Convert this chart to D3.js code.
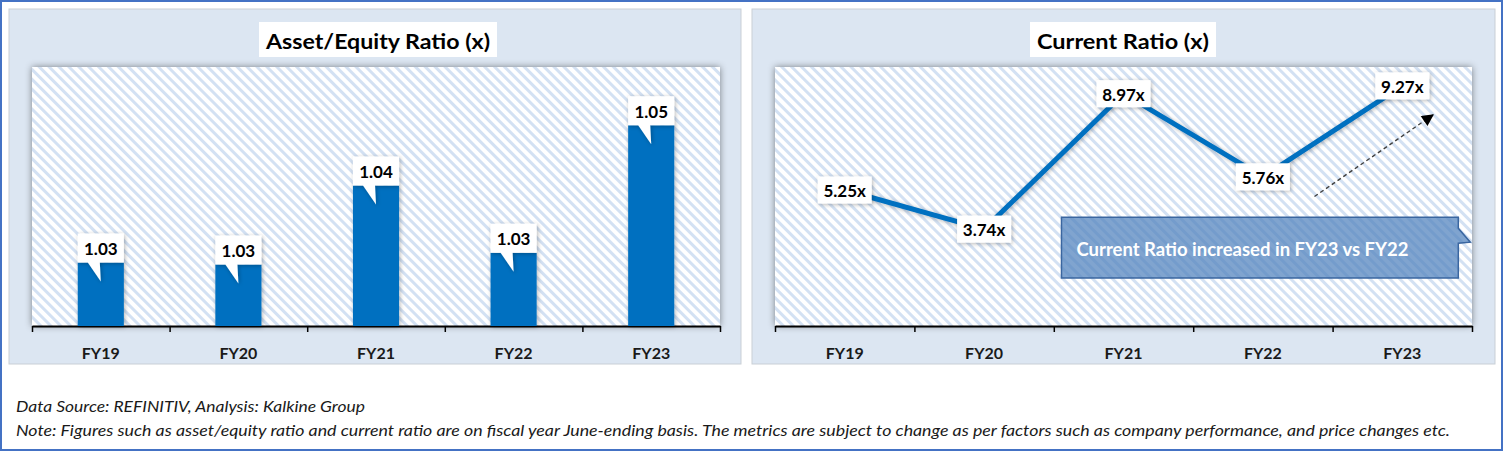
<!DOCTYPE html>
<html>
<head>
<meta charset="utf-8">
<script src="https://cdn.jsdelivr.net/npm/d3@7"></script>
<style>
body { margin: 0; background: #fff; }
svg text { font-family: Lato, "Open Sans", sans-serif; }
</style>
</head>
<body>
<svg id="chart" width="1504" height="452"></svg>
<script>
// data
var years = ["FY19", "FY20", "FY21", "FY22", "FY23"];
var assetEquity = [1.0298, 1.0295, 1.0417, 1.0313, 1.0510];
var currentRatio = [5.25, 3.74, 8.97, 5.76, 9.27];
var assetDomain = [1.02, 1.06];
var currentDomain = [0, 10];
var titles = ["Asset/Equity Ratio (x)", "Current Ratio (x)"];
var calloutText = "Current Ratio increased in FY23 vs FY22";
var footer = [
    "Data Source: REFINITIV, Analysis: Kalkine Group",
    "Note: Figures such as asset/equity ratio and current ratio are on fiscal year June-ending basis. The metrics are subject to change as per factors such as company performance, and price changes etc."
];

var svg = d3.select("#chart");
var defs = svg.append("defs");

// diagonal hatch of the plot areas
var pat = defs.append("pattern").attr("id", "hatch")
    .attr("patternUnits", "userSpaceOnUse")
    .attr("width", 7).attr("height", 7)
    .attr("patternTransform", "rotate(-45)");
pat.append("rect").attr("width", 7).attr("height", 7).attr("fill", "#fff");
pat.append("rect").attr("width", 3).attr("height", 7).attr("fill", "#d3e1f3");

var f1 = defs.append("filter").attr("id", "plotShadow")
    .attr("x", "-5%").attr("y", "-5%").attr("width", "110%").attr("height", "110%");
f1.append("feDropShadow").attr("dx", 0).attr("dy", 0).attr("stdDeviation", 3.5)
    .attr("flood-color", "#000").attr("flood-opacity", 0.45);

var f2 = defs.append("filter").attr("id", "soft")
    .attr("x", "-30%").attr("y", "-30%").attr("width", "160%").attr("height", "160%");
f2.append("feDropShadow").attr("dx", 1).attr("dy", 1).attr("stdDeviation", 2)
    .attr("flood-color", "#000").attr("flood-opacity", 0.3);

defs.append("marker").attr("id", "arrowHead")
    .attr("markerUnits", "userSpaceOnUse")
    .attr("viewBox", "0 0 10 10").attr("refX", 9).attr("refY", 5)
    .attr("markerWidth", 13).attr("markerHeight", 12).attr("orient", "auto")
    .append("path").attr("d", "M0,0 L10,5 L0,10 Z").attr("fill", "#000");

// outer frame
svg.append("rect").attr("x", 1).attr("y", 1).attr("width", 1501).attr("height", 449)
    .attr("fill", "#fff").attr("stroke", "#4472c4").attr("stroke-width", 2);

var plotTop = 67, plotBottom = 326;

var panels = [
    {x: 9, w: 732, x0: 32, x1: 720, tx: 259, tw: 238},
    {x: 752, w: 743, x0: 775, x1: 1472, tx: 1030, tw: 186}
];

function drawPanel(p, title) {
    var g = svg.append("g");
    g.append("rect").attr("x", p.x).attr("y", 9).attr("width", p.w).attr("height", 355)
        .attr("fill", "#dce6f2").attr("stroke", "#c9cfd6").attr("stroke-width", 1);

    g.append("rect").attr("x", p.x0).attr("y", plotTop)
        .attr("width", p.x1 - p.x0).attr("height", plotBottom - plotTop)
        .attr("fill", "url(#hatch)").attr("filter", "url(#plotShadow)");

    g.append("rect").attr("x", p.tx).attr("y", 22).attr("width", p.tw).attr("height", 35)
        .attr("fill", "#fff");
    g.append("text").attr("x", p.tx + p.tw / 2).attr("y", 40)
        .attr("text-anchor", "middle").attr("dominant-baseline", "central")
        .attr("font-size", 21).attr("font-weight", "bold").attr("fill", "#000")
        .attr("textLength", p.tw - 14).attr("lengthAdjust", "spacingAndGlyphs")
        .text(title);

    var band = d3.scaleBand().domain(years).range([p.x0, p.x1]).padding(0);

    // axis with ticks between categories
    var edge = d3.scaleLinear().domain([0, years.length]).range([p.x0, p.x1]);
    var ax = g.append("g").attr("transform", "translate(0," + plotBottom + ")")
        .call(d3.axisBottom(edge).ticks(years.length).tickSize(6).tickSizeOuter(0).tickFormat(""));
    ax.select(".domain").attr("stroke", "#000").attr("stroke-width", 2);
    ax.selectAll(".tick line").attr("stroke", "#000").attr("stroke-width", 1.5);

    g.selectAll(".cat").data(years).enter().append("text")
        .attr("x", function(d) { return band(d) + band.bandwidth() / 2; })
        .attr("y", 352)
        .attr("text-anchor", "middle").attr("dominant-baseline", "central")
        .attr("font-size", 16).attr("font-weight", "bold").attr("fill", "#1a1a1a")
        .text(function(d) { return d; });

    return {g: g, band: band};
}

// ---- left: bars
var left = drawPanel(panels[0], titles[0]);
var yBar = d3.scaleLinear().domain(assetDomain).range([plotBottom, plotTop]);
var barW = left.band.bandwidth() * 0.335;

var bars = left.g.selectAll(".bar").data(assetEquity).enter().append("g");
bars.append("rect")
    .attr("x", function(d, i) { return left.band(years[i]) + left.band.bandwidth() / 2 - barW / 2; })
    .attr("y", function(d) { return yBar(d); })
    .attr("width", barW)
    .attr("height", function(d) { return plotBottom - yBar(d); })
    .attr("fill", "#0070c0").attr("filter", "url(#soft)");

bars.append("path")
    .attr("d", function(d, i) {
        var cx = left.band(years[i]) + left.band.bandwidth() / 2;
        var x = cx - barW / 2, top = yBar(d);
        return "M" + x + "," + (top - 29) + " h" + barW + " v29 H" + (cx - 1) +
            " L" + cx + "," + (top + 19) + " L" + (cx - 13) + "," + top + " H" + x + " Z";
    })
    .attr("fill", "#fff").attr("filter", "url(#soft)");

bars.append("text")
    .attr("x", function(d, i) { return left.band(years[i]) + left.band.bandwidth() / 2; })
    .attr("y", function(d) { return yBar(d) - 14; })
    .attr("text-anchor", "middle").attr("dominant-baseline", "central")
    .attr("font-size", 17).attr("font-weight", "bold").attr("fill", "#000")
    .text(function(d) { return d.toFixed(2); });

// ---- right: line
var right = drawPanel(panels[1], titles[1]);
var yLine = d3.scaleLinear().domain(currentDomain).range([plotBottom, plotTop]);
var cxR = function(i) { return right.band(years[i]) + right.band.bandwidth() / 2; };

// callout + arrow
var bw = right.band.bandwidth();
var cl = cxR(2) - 62, cr = cxR(4) + 56, ct = yLine(4.2), cb = yLine(1.85);
right.g.append("path")
    .attr("d", "M" + cl + "," + ct + " H" + cr + " V" + (ct + 11) + " L" + (cr + 12) + "," + (ct + 25) +
        " L" + cr + "," + (ct + 26) + " V" + cb + " H" + cl + " Z")
    .attr("fill", "#4f81bd").attr("fill-opacity", 0.72)
    .attr("stroke", "#3a66a0").attr("stroke-width", 1.5);
right.g.append("text")
    .attr("x", cl + 15).attr("y", (ct + cb) / 2 + 1)
    .attr("dominant-baseline", "central")
    .attr("font-size", 18).attr("font-weight", "bold").attr("fill", "#fff")
    .attr("textLength", 332).attr("lengthAdjust", "spacingAndGlyphs")
    .text(calloutText);

right.g.append("line")
    .attr("x1", cxR(3) + 0.37 * bw).attr("y1", yLine(5))
    .attr("x2", cxR(4) + 0.22 * bw).attr("y2", yLine(8.15))
    .attr("stroke", "#404040").attr("stroke-width", 1.4)
    .attr("stroke-dasharray", "4,3").attr("marker-end", "url(#arrowHead)");

var line = d3.line()
    .x(function(d, i) { return cxR(i); })
    .y(function(d) { return yLine(d); });

right.g.append("path").datum(currentRatio)
    .attr("d", line)
    .attr("fill", "none").attr("stroke", "#0070c0").attr("stroke-width", 5)
    .attr("stroke-linejoin", "round").attr("filter", "url(#soft)");

var labs = right.g.selectAll(".lab").data(currentRatio).enter().append("g");
labs.append("rect")
    .attr("x", function(d, i) { return cxR(i) - 27; })
    .attr("y", function(d) { return yLine(d) - 13.5; })
    .attr("width", 54).attr("height", 27)
    .attr("fill", "#fff").attr("filter", "url(#soft)");
labs.append("text")
    .attr("x", function(d, i) { return cxR(i); })
    .attr("y", function(d) { return yLine(d) + 0.5; })
    .attr("text-anchor", "middle").attr("dominant-baseline", "central")
    .attr("font-size", 17).attr("font-weight", "bold").attr("fill", "#000")
    .text(function(d) { return d.toFixed(2) + "x"; });

// ---- footer
var footLen = [349, 1434];
svg.selectAll(".foot").data(footer).enter().append("text")
    .attr("x", 16)
    .attr("y", function(d, i) { return 412 + i * 24; })
    .attr("font-size", 15).attr("font-style", "italic").attr("fill", "#1a1a1a")
    .attr("textLength", function(d, i) { return footLen[i]; })
    .attr("lengthAdjust", "spacingAndGlyphs")
    .text(function(d) { return d; });
</script>
</body>
</html>
